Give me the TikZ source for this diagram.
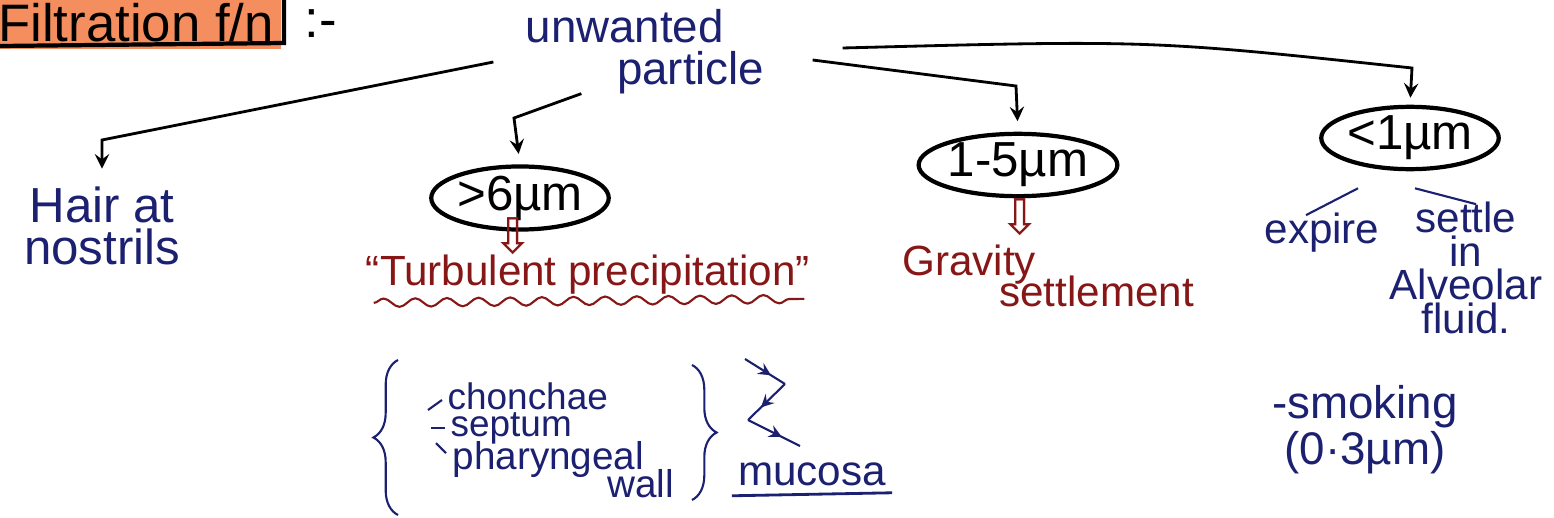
\documentclass[tikz,border=0pt]{standalone}
\usepackage{fontspec}
\setmainfont{Liberation Sans}
\newfontfamily\symfont{DejaVu Sans}
\usetikzlibrary{arrows,calc,shapes.geometric}
\usetikzlibrary{decorations.pathmorphing,decorations.pathreplacing,decorations.markings}
\definecolor{inkblue}{RGB}{28,32,112}
\definecolor{inkred}{RGB}{135,22,22}
\definecolor{marker}{RGB}{245,142,94}
% font size with a tight line spacing
\newcommand{\inkfont}[2]{\fontsize{#1}{#2}\selectfont\lineskiplimit=-20pt\relax}

\begin{document}
\begin{tikzpicture}[x=0.01cm, y=-0.01cm, >=stealth]
	\tikzstyle{word} = [text=inkblue, font=\inkfont{12}{11}, align=center, inner sep=1pt]
	\tikzstyle{redword} = [word, text=inkred]
	\tikzstyle{blob} = [draw, very thick, ellipse, inner sep=0pt, font=\inkfont{14}{14}]
	\tikzstyle{link} = [->, thick]
	\tikzstyle{midarrow} = [postaction={decorate}, decoration={markings, mark=at position 0.65 with {\arrow{>}}}]
	\useasboundingbox (0,0) rectangle (1554,518);

	% heading
	\node[fill=marker, inner sep=2pt, font=\inkfont{15}{15}] (head) at (136,23) {Filtration f/n};
	\draw[very thick] (0,46) -- (284,43) -- (284,0);
	\node[font=\inkfont{15}{15}, anchor=west] (colon) at (292,24) {:-};

	% root and the four sizes
	\node[word, font=\inkfont{13}{12}, align=left] (up) at (645,52) {unwanted\\\hspace*{2em}particle};
	\node[word, font=\inkfont{14}{12}] (hair) at (102,226) {Hair at\\nostrils};
	\node[blob, minimum width=1.6cm, minimum height=0.5cm] (big) at (520,198) {\textgreater6µm};
	\node[blob, minimum width=1.65cm, minimum height=0.5cm] (mid) at (1018,165) {1-5µm};
	\node[blob, minimum width=1.4cm, minimum height=0.55cm] (small) at (1410,138) {\textless1µm};

	\draw[link, shorten >=4pt] (up.west) ++(-28,10) -- (102,140) -- (hair.north);
	\draw[link, shorten >=3pt] (up.south west) ++(60,-5) -- (514,118) -- (big.north);
	\draw[link, shorten >=3pt] (up.east) ++(44,8) -- (1016,86) -- (mid.north);
	\draw[link, shorten >=2pt] (up.east) ++(74,-4) .. controls (1150,40) .. (1412,68) -- (small.north);

	% what happens to each
	\node[redword, font=\symfont\inkfont{14}{14}, inner sep=0pt] (dn1) at (513,236) {⇩};
	\node[redword, font=\symfont\inkfont{14}{14}, inner sep=0pt] (dn2) at (1020,217) {⇩};
	\node[redword] (turb) at (588,275) {“Turbulent precipitation”};
	\draw[inkred, semithick, decorate, decoration={snake, amplitude=1.2pt, segment length=9pt}]
		($(turb.south west)+(12,4)$) -- ($(turb.south east)+(-10,0)$);
	\node[redword, align=left, anchor=west, font=\inkfont{12}{9}] (grav) at (898,276) {Gravity\\\hspace*{2.3em}settlement};

	\node[word] (exp) at (1322,233) {expire};
	\node[word, font=\inkfont{12}{9.5}] (alv) at (1466,268) {settle\\in\\Alveolar\\fluid.};
	\draw[inkblue, semithick] ($(small.south)+(-52,17)$) -- ($(exp.north)+(-16,6)$);
	\draw[inkblue, semithick] ($(small.south)+(5,17)$) -- ($(alv.north)+(10,6)$);

	% nose parts
	\node[word, anchor=west, font=\inkfont{10.5}{10}, inner sep=0pt] (conch) at (447,396) {chonchae};
	\node[word, anchor=west, font=\inkfont{10.5}{10}, inner sep=0pt] (sept) at (450,428) {septum};
	\node[word, anchor=west, align=left, font=\inkfont{11}{8}, inner sep=0pt] (phar) at (452,470) {pharyngeal\\\hspace*{4em}wall};
	\draw[inkblue, semithick] ($(conch.west)+(-5,4)$) -- ++(-14,10);
	\draw[inkblue, semithick] ($(sept.west)+(-5,0)$) -- ++(-14,0);
	\draw[inkblue, semithick] ($(phar.north west)+(-6,12)$) -- ++(-10,-10);
	\draw[inkblue, semithick, decorate, decoration={brace, amplitude=7pt}] (398,515) -- (398,360);
	\draw[inkblue, semithick, decorate, decoration={brace, amplitude=7pt}] (692,365) -- (692,500);

	\coordinate (z1) at (745,359);
	\coordinate (z2) at (785,384);
	\coordinate (z3) at (748,420);
	\coordinate (z4) at (800,446);
	\draw[inkblue, semithick, midarrow] (z1) -- (z2);
	\draw[inkblue, semithick, midarrow] (z2) -- (z3);
	\draw[inkblue, semithick, midarrow] (z3) -- (z4);
	\node[word] (muc) at (812,474) {mucosa};
	\draw[inkblue, thick] ($(muc.south west)+(-2,6)$) -- ($(muc.south east)+(2,3)$);

	\node[word, font=\inkfont{13}{13}] (smoke) at (1365,430) {-smoking\\(0·3µm)};
\end{tikzpicture}
\end{document}
